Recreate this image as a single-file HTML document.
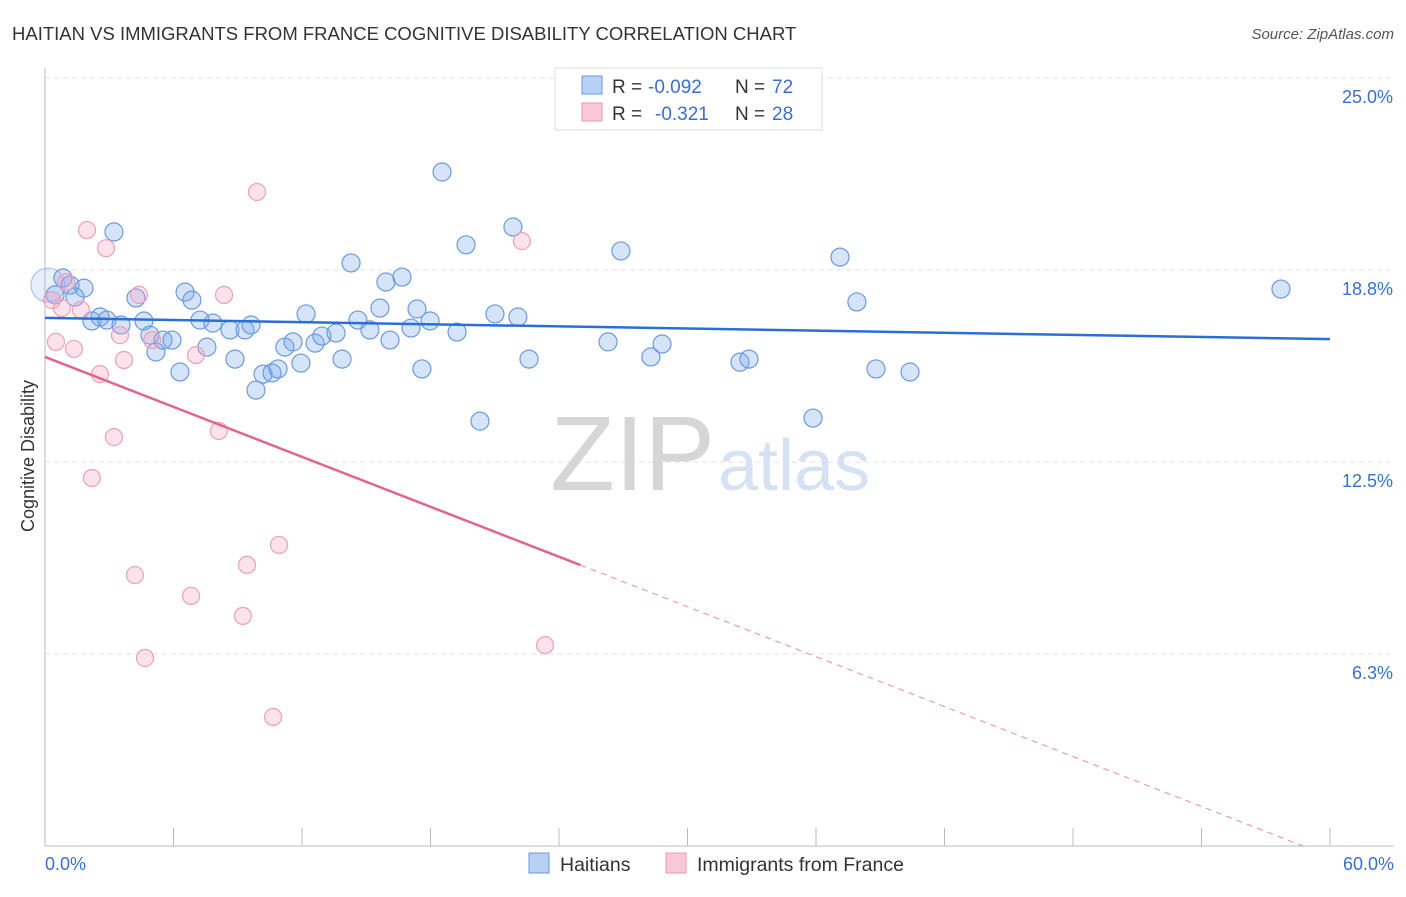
<!DOCTYPE html>
<html><head><meta charset="utf-8"><style>
body{margin:0;background:#fff;font-family:"Liberation Sans",sans-serif}
svg text{font-family:"Liberation Sans",sans-serif}
</style></head><body>
<svg id="chart" width="1406" height="892">
<text x="12" y="40" font-size="18.5" fill="#333">HAITIAN VS IMMIGRANTS FROM FRANCE COGNITIVE DISABILITY CORRELATION CHART</text>
<text x="1394" y="39" font-size="15" fill="#555" text-anchor="end" font-style="italic">Source: ZipAtlas.com</text>
<text x="34" y="456" font-size="18" fill="#333" text-anchor="middle" transform="rotate(-90 34 456)">Cognitive Disability</text>
<g id="grid"></g>
<text x="715" y="490" font-size="106" fill="#d6d6d6" text-anchor="end" font-family="Liberation Serif">ZIP</text>
<text x="718" y="490" font-size="72" fill="#d6e2f4">atlas</text>
<g id="pts"></g>
<g id="lines"></g>
<g>
<rect x="555" y="68" width="267" height="62" fill="#fff" stroke="#ddd"/>
<rect x="582" y="76" width="20" height="18" fill="#b8d0f4" stroke="#6a9ae0"/>
<rect x="582" y="103" width="20" height="18" fill="#f9c8d8" stroke="#e899b4"/>
<text x="612" y="93" font-size="19" fill="#333">R =</text>
<text x="648" y="93" font-size="19" fill="#3a6fd0">-0.092</text>
<text x="735" y="93" font-size="19" fill="#333">N =</text>
<text x="772" y="93" font-size="19" fill="#3a6fd0">72</text>
<text x="612" y="120" font-size="19" fill="#333">R =</text>
<text x="655" y="120" font-size="19" fill="#3a6fd0">-0.321</text>
<text x="735" y="120" font-size="19" fill="#333">N =</text>
<text x="772" y="120" font-size="19" fill="#3a6fd0">28</text>
</g>
<g>
<rect x="529" y="853" width="20" height="20" fill="#b8d0f4" stroke="#6a9ae0"/>
<text x="560" y="871" font-size="19.5" fill="#333">Haitians</text>
<rect x="666" y="853" width="20" height="20" fill="#f9c8d8" stroke="#e899b4"/>
<text x="697" y="871" font-size="19.5" fill="#333">Immigrants from France</text>
</g>
</svg>
<script>
const xTicks=[0,6,12,18,24,30,36,42,48,54,60];
const yTicks=[6.25,12.5,18.75,25];
const yTickLabels=["6.3%","12.5%","18.8%","25.0%"];
const xLabels=["0.0%","60.0%"];
const haitiansX=[0.14,0.84,1.17,1.82,0.47,1.40,2.19,2.57,2.89,3.22,3.55,4.25,4.62,4.90,5.18,5.51,5.93,6.30,6.54,6.86,7.24,7.56,7.84,8.64,8.87,9.34,9.62,9.85,10.18,10.60,10.88,11.20,11.58,11.95,12.19,12.61,12.93,13.59,13.87,14.29,14.61,15.17,15.64,15.92,16.11,16.67,17.09,17.37,17.60,17.98,18.54,19.24,19.66,20.31,21.01,21.85,22.08,22.60,26.29,26.89,28.29,28.81,32.45,32.87,35.86,37.12,37.91,38.80,40.39,57.71];
const haitiansY=[18.26,18.49,18.26,18.16,17.94,17.87,17.09,17.22,17.12,19.99,16.96,17.84,17.09,16.63,16.08,16.47,16.47,15.43,18.03,17.77,17.12,16.24,17.02,16.80,15.85,16.80,16.96,14.84,15.36,15.40,15.53,16.24,16.41,15.72,17.32,16.37,16.60,16.70,15.85,18.98,17.12,16.80,17.51,18.36,16.47,18.52,16.86,17.48,15.53,17.09,21.94,16.73,19.57,13.83,17.32,20.15,17.22,15.85,16.41,19.37,15.92,16.34,15.75,15.85,13.93,19.17,17.71,15.53,15.43,18.13];
const franceX=[0.33,0.51,0.79,1.35,0.98,1.68,1.96,2.19,2.57,2.85,3.22,3.50,3.69,4.20,4.39,4.67,5.00,6.82,7.05,8.12,8.36,9.24,9.43,9.90,10.65,10.93,22.27,23.35];
const franceY=[17.77,16.41,17.51,16.18,18.36,17.45,20.05,11.98,15.36,19.46,13.31,16.63,15.82,8.82,17.94,6.12,16.47,8.14,15.98,13.51,17.94,7.49,9.15,21.29,4.20,9.80,19.69,6.54];
const blueTrend=[17.19,16.50];
const pinkTrend=[15.92,-0.271,25];
const NS="http://www.w3.org/2000/svg";
const X=v=>45+v/60*1285, Y=v=>846-v/6.25*192;
function mk(t,a,p){const e=document.createElementNS(NS,t);for(const k in a)e.setAttribute(k,a[k]);p.appendChild(e);return e;}
const g=document.getElementById('grid');
yTicks.forEach((t,i)=>{
 const l=mk('line',{x1:45,x2:1394,y1:Y(t),y2:Y(t),stroke:'#e2e2e2','stroke-dasharray':'5,4'},g);
 
 
 const tx=mk('text',{x:1393,y:Y(t)+25,'font-size':18,fill:'#3a6fd0','text-anchor':'end'},g);tx.textContent=yTickLabels[i];
 
 
});
mk('line',{x1:45,x2:45,y1:68,y2:846,stroke:'#bbb'},g);
mk('line',{x1:45,x2:1394,y1:846,y2:846,stroke:'#bbb'},g);
xTicks.forEach(t=>{const l=mk('line',{x1:X(t),x2:X(t),y1:828,y2:846,stroke:'#bbb'},g);
 
 });
[[0,'start',45],[60,'end',1394]].forEach((d,i)=>{const tx=mk('text',{x:d[2],y:870,'font-size':18,fill:'#3a6fd0','text-anchor':d[1]},g);tx.textContent=xLabels[i];
 
 });
const p=document.getElementById('pts');
haitiansX.forEach((x,i)=>{const c=mk('circle',{cx:X(x),cy:Y(haitiansY[i]),r:i==0?17:9,fill:i==0?'rgba(120,165,235,0.18)':'rgba(120,165,235,0.3)',stroke:i==0?'#a8c4ee':'#6a9ae0','stroke-width':1.2},p);
 
 });
franceX.forEach((x,i)=>{const c=mk('circle',{cx:X(x),cy:Y(franceY[i]),r:8.5,fill:'rgba(245,160,190,0.3)',stroke:'#eca0ba','stroke-width':1.2},p);
 
 });
const L=document.getElementById('lines');
const bl=mk('line',{x1:X(0),y1:Y(blueTrend[0]),x2:X(60),y2:Y(blueTrend[1]),stroke:'#2a6fd6','stroke-width':2.5},L);


const pf=x=>pinkTrend[0]+pinkTrend[1]*x;
const xe=Math.min(60,-pinkTrend[0]/pinkTrend[1]);
const pl=mk('line',{x1:X(0),y1:Y(pf(0)),x2:X(pinkTrend[2]),y2:Y(pf(pinkTrend[2])),stroke:'#e0648e','stroke-width':2.5},L);


const pd=mk('line',{x1:X(pinkTrend[2]),y1:Y(pf(pinkTrend[2])),x2:X(xe),y2:Y(pf(xe)),stroke:'#e88aa8','stroke-width':1,'stroke-dasharray':'6,5'},L);


</script>
</body></html>
